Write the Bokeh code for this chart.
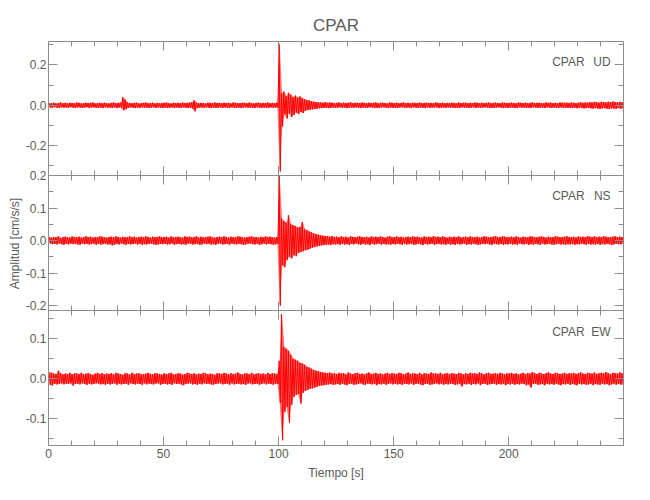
import math
from bokeh.plotting import figure
from bokeh.models import (Range1d, LinearAxis, SingleIntervalTicker, FixedTicker,
                          CustomJSTickFormatter, Label, Grid)
from bokeh.embed import file_html
from bokeh.resources import INLINE

# ---------------- data ----------------
STATION = "CPAR"
TITLE = "CPAR"
X_LABEL = "Tiempo [s]"
Y_LABEL = "Amplitud [cm/s/s]"
COMPONENTS = ["UD", "NS", "EW"]
T_END = 249.9            # seconds shown on the time axis
BIN_SECONDS = 1.0        # each hi/lo pair = peak max / peak min inside one second
X_TICK_STEP = 50

# peak amplitudes per 1-s window, in 0.001 cm/s/s
ud_hi = [12, 10, 13, 9, 11, 14, 10, 12, 9, 13, 11, 10, 14, 12, 9, 11, 13, 10, 12, 14, 9, 11, 12, 10, 13,
         11, 9, 12, 14, 10, 12, 13, 40, 28, 14, 11, 10, 12, 13, 9, 11, 12, 14, 10, 11, 13, 9, 12, 10, 11,
         12, 14, 10, 9, 13, 11, 12, 10, 14, 11, 12, 13, 15, 25, 13, 10, 12, 11, 9, 13, 12, 10, 14, 11, 12,
         10, 13, 11, 12, 9, 14, 12, 10, 11, 13, 12, 10, 14, 11, 9, 12, 13, 10, 12, 11, 14, 10, 12, 11, 13,
         303, 60, 68, 45, 62, 52, 40, 48, 38, 44, 35, 30, 26, 24, 20, 18, 16, 15, 14, 13, 15, 12, 14, 13, 11,
         12, 14, 10, 13, 11, 12, 15, 10, 13, 12, 11, 14, 12, 10, 13, 11, 12, 14, 10, 12, 13, 11, 10, 14, 12,
         11, 13, 10, 12, 14, 11, 12, 10, 13, 12, 11, 14, 10, 12, 13, 11, 12, 10, 14, 12, 11, 13, 10, 12, 11,
         13, 12, 10, 14, 11, 12, 13, 10, 12, 11, 14, 12, 10, 13, 11, 12, 14, 10, 12, 13, 11, 10, 14, 12, 11,
         12, 13, 11, 10, 14, 12, 11, 13, 10, 12, 14, 11, 12, 13, 10, 11, 14, 12, 13, 11, 12, 10, 14, 13, 12,
         13, 11, 14, 12, 10, 13, 15, 12, 14, 13, 16, 14, 17, 15, 13, 18, 16, 14, 17, 15, 19, 16, 14, 17, 15]
ud_lo = [-11, -13, -9, -12, -14, -10, -12, -11, -13, -9, -12, -14, -10, -11, -13, -12, -9, -14, -11, -10, -13, -12, -11, -14, -10,
         -12, -11, -13, -10, -14, -11, -12, -25, -20, -13, -10, -12, -14, -11, -13, -10, -12, -11, -14, -12, -10, -13, -11, -12, -14,
         -11, -13, -12, -10, -14, -11, -12, -13, -10, -12, -14, -11, -16, -30, -14, -12, -11, -13, -10, -12, -14, -11, -13, -12, -10,
         -13, -11, -12, -14, -10, -12, -13, -11, -14, -12, -10, -13, -11, -12, -14, -10, -12, -13, -11, -12, -14, -10, -13, -11, -12,
         -328, -105, -45, -66, -40, -58, -48, -36, -44, -33, -38, -28, -24, -22, -21, -18, -17, -15, -14, -13, -12, -14, -13, -11, -12,
         -12, -10, -13, -11, -14, -12, -11, -13, -10, -12, -14, -11, -12, -13, -10, -11, -14, -12, -13, -11, -10, -12, -14, -11, -13,
         -12, -14, -11, -10, -13, -12, -11, -14, -10, -12, -13, -11, -12, -14, -10, -13, -11, -12, -10, -14, -12, -11, -13, -10, -12,
         -11, -13, -12, -14, -10, -12, -11, -13, -12, -10, -14, -11, -13, -12, -10, -11, -14, -12, -13, -11, -10, -12, -14, -11, -13,
         -12, -11, -13, -14, -10, -12, -11, -13, -12, -14, -10, -11, -13, -12, -11, -14, -10, -12, -13, -11, -12, -14, -10, -13, -12,
         -13, -12, -14, -11, -15, -13, -12, -16, -14, -13, -15, -17, -14, -16, -18, -15, -14, -17, -19, -15, -16, -18, -14, -17, -15]

ns_hi = [12, 9, 11, 10, 13, 8, 11, 12, 10, 9, 13, 11, 10, 12, 9, 11, 13, 10, 12, 9, 11, 10, 13, 12, 10,
         9, 11, 12, 10, 13, 11, 9, 12, 10, 11, 13, 10, 12, 9, 11, 12, 10, 13, 11, 9, 12, 10, 11, 13, 10,
         11, 12, 9, 13, 10, 11, 12, 10, 9, 13, 11, 12, 10, 11, 13, 9, 12, 10, 11, 12, 13, 10, 9, 11, 12,
         10, 13, 11, 9, 12, 10, 11, 13, 12, 10, 9, 11, 12, 13, 10, 11, 9, 12, 10, 13, 11, 12, 10, 9, 11,
         198, 68, 60, 55, 78, 50, 47, 45, 40, 42, 57, 35, 32, 28, 25, 22, 20, 18, 16, 15, 14, 13, 12, 14, 11,
         12, 10, 13, 11, 12, 9, 14, 11, 10, 12, 13, 11, 10, 12, 9, 13, 11, 12, 10, 13, 11, 9, 12, 14, 10,
         11, 13, 10, 12, 9, 11, 12, 10, 13, 11, 12, 10, 9, 13, 11, 12, 10, 14, 11, 12, 10, 13, 11, 9, 12,
         10, 12, 11, 13, 9, 11, 12, 10, 13, 11, 10, 12, 9, 11, 13, 12, 10, 11, 12, 14, 10, 11, 13, 12, 10,
         11, 12, 10, 13, 11, 9, 12, 11, 10, 13, 12, 11, 10, 12, 13, 11, 9, 12, 10, 11, 13, 12, 10, 11, 12,
         13, 10, 11, 12, 9, 13, 11, 12, 10, 14, 12, 11, 13, 10, 12, 11, 13, 12, 10, 11, 12, 13, 10, 12, 11]
ns_lo = [-8, -11, -10, -12, -9, -11, -13, -10, -12, -9, -11, -10, -12, -13, -9, -11, -10, -12, -11, -9, -13, -10, -12, -11, -10,
         -12, -11, -15, -13, -10, -12, -9, -11, -13, -10, -12, -11, -9, -12, -10, -13, -11, -12, -10, -9, -11, -13, -12, -10, -11,
         -10, -12, -11, -9, -13, -11, -10, -12, -11, -13, -9, -10, -12, -11, -10, -13, -12, -9, -11, -10, -12, -11, -13, -10, -9,
         -12, -11, -10, -13, -9, -11, -12, -10, -11, -13, -12, -10, -9, -11, -12, -10, -13, -11, -9, -12, -10, -11, -13, -12, -10,
         -200, -76, -82, -60, -50, -55, -45, -48, -38, -35, -33, -30, -28, -25, -22, -20, -18, -16, -15, -14, -13, -12, -14, -11, -12,
         -11, -13, -10, -12, -11, -13, -10, -12, -9, -11, -13, -10, -12, -11, -14, -10, -12, -11, -9, -13, -10, -12, -11, -13, -10,
         -12, -10, -11, -13, -9, -12, -11, -10, -13, -12, -10, -11, -14, -10, -12, -11, -9, -13, -11, -10, -12, -11, -13, -10, -12,
         -11, -13, -10, -12, -11, -9, -13, -11, -12, -10, -11, -13, -12, -10, -11, -9, -12, -13, -10, -11, -12, -10, -13, -11, -12,
         -10, -12, -11, -13, -9, -11, -12, -10, -13, -11, -12, -10, -11, -13, -9, -12, -11, -10, -12, -13, -11, -10, -12, -11, -13,
         -11, -12, -10, -13, -11, -12, -9, -11, -13, -10, -12, -11, -12, -10, -13, -11, -12, -10, -11, -13, -12, -10, -11, -12, -10]

ew_hi = [17, 15, 13, 12, 20, 14, 11, 13, 12, 15, 11, 14, 13, 12, 15, 11, 13, 14, 12, 10, 13, 15, 12, 14, 11,
         13, 12, 14, 11, 15, 13, 12, 10, 14, 13, 11, 15, 12, 13, 14, 11, 12, 13, 15, 12, 11, 14, 13, 12, 10,
         14, 12, 13, 15, 11, 12, 14, 13, 11, 12, 15, 13, 12, 14, 11, 13, 12, 15, 14, 11, 13, 12, 10, 14, 13,
         12, 15, 13, 11, 14, 12, 13, 16, 12, 11, 14, 13, 12, 15, 11, 13, 14, 12, 13, 11, 15, 12, 14, 13, 12,
         45, 162, 80, 75, 70, 60, 50, 48, 45, 40, 38, 35, 30, 28, 25, 22, 20, 19, 17, 16, 15, 14, 16, 13, 14,
         12, 15, 13, 14, 11, 16, 13, 12, 14, 15, 12, 13, 11, 14, 16, 12, 13, 15, 12, 14, 11, 13, 15, 12, 14,
         13, 12, 15, 14, 11, 13, 16, 12, 14, 13, 12, 15, 11, 14, 13, 12, 16, 13, 14, 12, 15, 11, 13, 14, 12,
         14, 13, 12, 15, 13, 11, 14, 12, 15, 13, 14, 12, 16, 13, 11, 14, 15, 12, 13, 14, 12, 15, 13, 11, 14,
         13, 15, 12, 14, 11, 13, 15, 12, 14, 13, 17, 14, 12, 15, 13, 12, 14, 16, 13, 12, 15, 14, 12, 13, 15,
         12, 14, 13, 15, 12, 14, 16, 13, 12, 15, 14, 13, 16, 12, 14, 15, 13, 17, 14, 12, 15, 14, 13, 16, 14]
ew_lo = [-15, -17, -12, -14, -13, -11, -14, -12, -13, -11, -17, -13, -12, -14, -11, -13, -15, -12, -14, -13, -11, -12, -14, -13, -15,
         -12, -14, -13, -11, -15, -12, -14, -13, -12, -15, -11, -13, -14, -12, -13, -15, -11, -14, -12, -13, -14, -12, -11, -15, -13,
         -12, -14, -13, -15, -11, -13, -12, -14, -16, -13, -12, -11, -14, -13, -15, -12, -14, -11, -13, -12, -14, -15, -13, -12, -11,
         -14, -13, -12, -15, -11, -14, -13, -12, -14, -13, -15, -12, -11, -14, -13, -12, -15, -13, -11, -14, -12, -13, -15, -12, -13,
         -60, -154, -83, -70, -110, -65, -45, -40, -38, -62, -35, -30, -28, -25, -24, -22, -20, -18, -17, -16, -15, -14, -13, -15, -14,
         -13, -15, -12, -14, -16, -13, -12, -15, -14, -13, -11, -14, -15, -12, -13, -14, -12, -16, -13, -14, -12, -15, -13, -11, -14,
         -12, -14, -13, -15, -12, -13, -14, -11, -15, -13, -12, -14, -16, -13, -12, -15, -14, -13, -11, -14, -12, -15, -13, -14, -12,
         -13, -15, -14, -12, -19, -13, -14, -12, -15, -13, -14, -11, -16, -13, -12, -15, -14, -13, -12, -15, -13, -14, -12, -16, -13,
         -14, -12, -15, -13, -14, -12, -13, -16, -14, -22, -13, -12, -15, -14, -13, -16, -12, -14, -13, -15, -12, -14, -16, -13, -14,
         -12, -15, -13, -14, -16, -12, -14, -13, -15, -14, -12, -16, -13, -14, -15, -12, -14, -13, -16, -14, -12, -15, -13, -14, -15]

# visible amplitude window of each panel (cm/s/s) and its tick step
ud_lim = (-0.348, 0.316)
ns_lim = (-0.215, 0.200)
ew_lim = (-0.167, 0.171)
y_tick_step = [0.2, 0.1, 0.1]

for arr in (ud_hi, ud_lo, ns_hi, ns_lo, ew_hi, ew_lo):
    assert len(arr) == 250, len(arr)

# ---------------- layout / style ----------------
PANEL_PX = [134, 135, 135]          # UD, NS, EW panel heights
FRAME_H = sum(PANEL_PX)
FRAME_W = 575
AX = "#8c8c8c"
TXT = "#5a5a5a"
FONT = "Liberation Sans"
RED = "#ff0000"

range_names = ["default", "ns", "ew"]
lims = [ud_lim, ns_lim, ew_lim]


def full_range(lim, idx):
    lo, hi = lim
    per_px = (hi - lo) / PANEL_PX[idx]
    above = sum(PANEL_PX[:idx])
    below = FRAME_H - above - PANEL_PX[idx]
    return Range1d(lo - below * per_px, hi + above * per_px)


p = figure(width=48 + FRAME_W + 10, height=41 + FRAME_H + 37,
           x_range=Range1d(0, T_END), y_range=full_range(ud_lim, 0),
           x_axis_location=None, y_axis_location=None,
           output_backend="svg", toolbar_location=None,
           min_border_left=48, min_border_right=10, min_border_top=41, min_border_bottom=37)
p.extra_y_ranges = {"ns": full_range(ns_lim, 1), "ew": full_range(ew_lim, 2),
                    "stack": Range1d(0, FRAME_H)}
p.center = [r for r in p.center if not isinstance(r, Grid)]
p.outline_line_color = AX
p.background_fill_color = "white"
p.border_fill_color = "white"

p.title.text = TITLE
p.title.align = "center"
p.title.text_font = FONT
p.title.text_font_size = "17px"
p.title.text_font_style = "normal"
p.title.text_color = TXT
p.title.standoff = 13

blank = CustomJSTickFormatter(code="return ''")


def style(ax):
    ax.axis_line_color = AX
    ax.major_tick_line_color = AX
    ax.minor_tick_line_color = AX
    ax.major_tick_in = 9
    ax.major_tick_out = 0
    ax.minor_tick_in = 5
    ax.minor_tick_out = 0
    ax.major_label_text_font = FONT
    ax.major_label_text_font_size = "12px"
    ax.major_label_text_color = TXT
    ax.axis_label_text_font = FONT
    ax.axis_label_text_font_size = "12px"
    ax.axis_label_text_font_style = "normal"
    ax.axis_label_text_color = TXT
    return ax


# one left axis on a stacked coordinate (frame pixels from the bottom); ticks placed
# where each panel's own values fall
major_pos, major_txt, minor_pos = [], [], []
for i, (lim, step) in enumerate(zip(lims, y_tick_step)):
    lo, hi = lim
    base = FRAME_H - sum(PANEL_PX[:i + 1])
    scale = PANEL_PX[i] / (hi - lo)
    half = step / 2
    for k in range(math.ceil(lo / half - 1e-9), math.floor(hi / half + 1e-9) + 1):
        v = k * half
        pos = base + (v - lo) * scale
        if k % 2 == 0:
            major_pos.append(pos)
            major_txt.append("%.1f" % v if abs(v) > 1e-9 else "0.0")
        else:
            minor_pos.append(pos)

ylab_fmt = CustomJSTickFormatter(args=dict(pos=major_pos, txt=major_txt), code="""
let best = 0;
for (let i = 0; i < pos.length; i++) {
  if (Math.abs(pos[i] - tick) < Math.abs(pos[best] - tick)) { best = i; }
}
return txt[best];
""")
left = style(LinearAxis(y_range_name="stack", ticker=FixedTicker(ticks=major_pos, minor_ticks=minor_pos),
                        formatter=ylab_fmt, axis_label=Y_LABEL))
left.major_label_standoff = 2
left.axis_label_standoff = 1
p.add_layout(left, "left")

# right edge ticks and time ticks on the top/bottom edge of each panel (no labels)
for i, (rn, lim, step) in enumerate(zip(range_names, lims, y_tick_step)):
    right = style(LinearAxis(y_range_name=rn, bounds=lim, fixed_location=T_END,
                             ticker=SingleIntervalTicker(interval=step, num_minor_ticks=2),
                             formatter=blank))
    p.add_layout(right, "right")
    top = style(LinearAxis(y_range_name=rn, fixed_location=lim[1],
                           ticker=SingleIntervalTicker(interval=X_TICK_STEP, num_minor_ticks=5),
                           formatter=blank))
    p.add_layout(top, "above")
    if i < 2:
        bot = style(LinearAxis(y_range_name=rn, fixed_location=lim[0],
                               ticker=SingleIntervalTicker(interval=X_TICK_STEP, num_minor_ticks=5),
                               formatter=blank))
        p.add_layout(bot, "below")

xaxis = style(LinearAxis(ticker=SingleIntervalTicker(interval=X_TICK_STEP, num_minor_ticks=5),
                         axis_label=X_LABEL))
xaxis.major_label_standoff = 3
xaxis.axis_label_standoff = 5
p.add_layout(xaxis, "below")


def zigzag(hi, lo):
    xs, ys = [], []
    for i, (h, l) in enumerate(zip(hi, lo)):
        t0 = i * BIN_SECONDS
        xs += [t0 + 0.25 * BIN_SECONDS, t0 + 0.75 * BIN_SECONDS]
        ys += [h / 1000.0, l / 1000.0]
    return xs, ys


traces = [(ud_hi, ud_lo), (ns_hi, ns_lo), (ew_hi, ew_lo)]
for rn, (hi, lo) in zip(range_names, traces):
    tc = [(i + 0.5) * BIN_SECONDS for i in range(len(hi))]
    p.varea(x=tc, y1=[v / 1000.0 for v in lo], y2=[v / 1000.0 for v in hi],
            y_range_name=rn, fill_color=RED, fill_alpha=0.55)
    xs, ys = zigzag(hi, lo)
    p.line(xs, ys, y_range_name=rn, line_color=RED, line_width=1)

# station / component labels
label_y = [0.214, 0.137, 0.118]
for rn, comp, ly in zip(range_names, COMPONENTS, label_y):
    p.add_layout(Label(x=233.0, y=ly, y_range_name=rn, text=STATION, text_align="right",
                       text_baseline="middle", text_font=FONT, text_font_size="12px", text_color=TXT))
    p.add_layout(Label(x=244.3, y=ly, y_range_name=rn, text=comp, text_align="right",
                       text_baseline="middle", text_font=FONT, text_font_size="12px", text_color=TXT))

open("out.html", "w").write(file_html(p, INLINE))
